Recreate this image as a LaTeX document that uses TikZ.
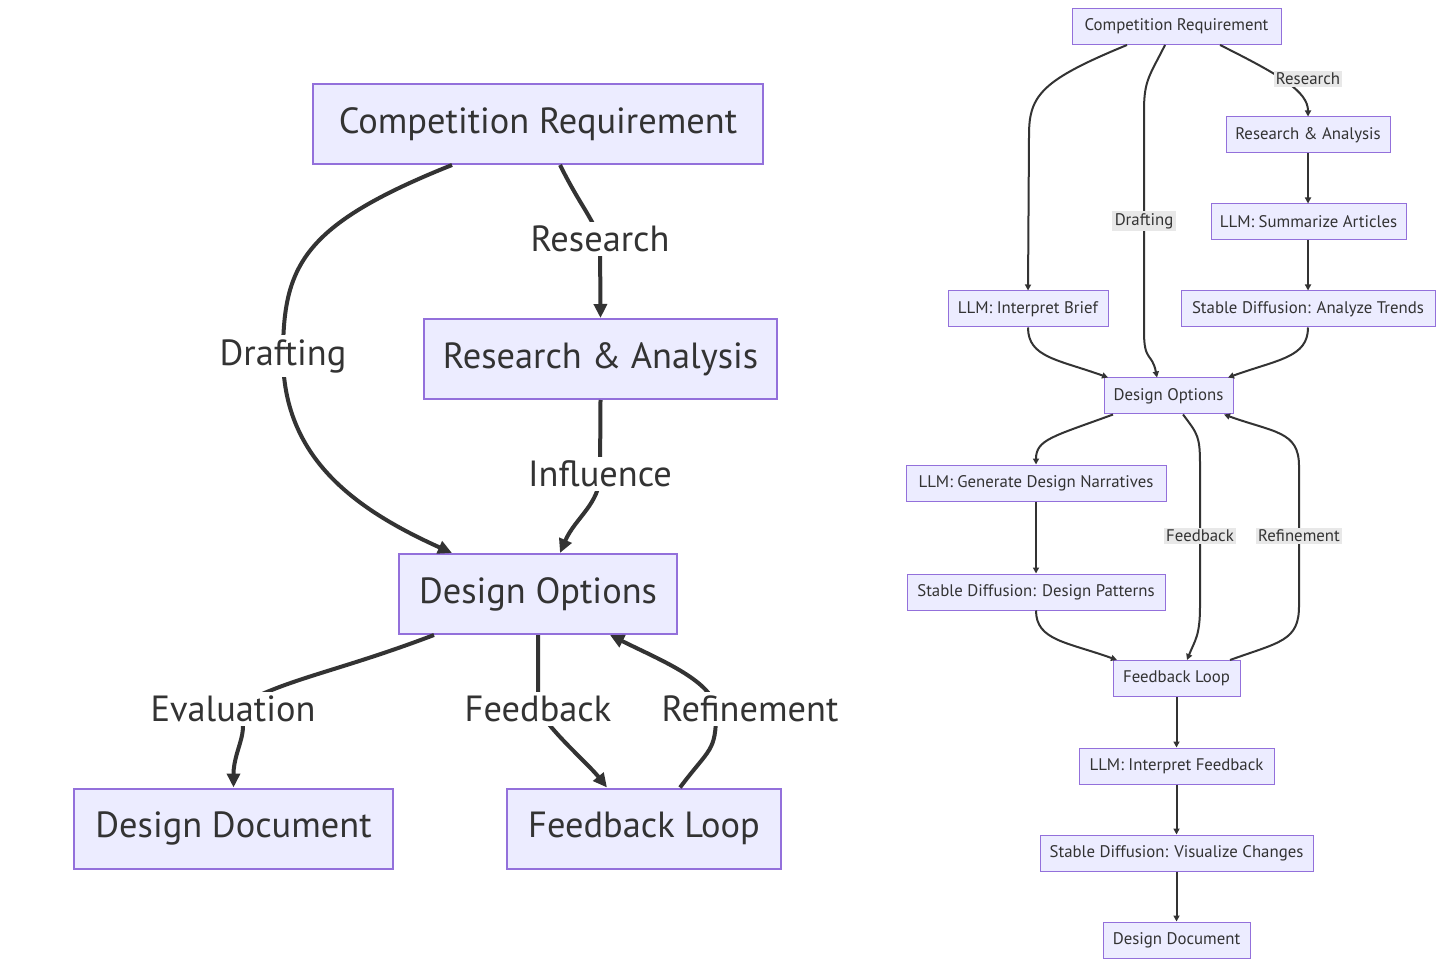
\documentclass[tikz,border=0pt]{standalone}
\usepackage{fontspec}
\setmainfont{PT Sans}
\usetikzlibrary{arrows.meta}
\definecolor{nodefill}{HTML}{ECECFF}
\definecolor{nodeline}{HTML}{9370DB}
\definecolor{ink}{HTML}{333333}
\definecolor{labelbg}{HTML}{E8E8E8}
\begin{document}
\begin{tikzpicture}[x=0.5pt, y=-0.5pt,
    bigbox/.style={draw=nodeline, fill=nodefill, line width=1pt, minimum height=40pt, inner sep=0pt, text=ink, font=\fontsize{18.2}{22}\selectfont},
    smallbox/.style={draw=nodeline, fill=nodefill, line width=0.5pt, minimum height=18pt, inner sep=0pt, text=ink, font=\fontsize{8.4}{10}\selectfont},
    bigedge/.style={draw=ink, line width=2pt, -{Triangle[length=7pt,width=6.5pt]}},
    smalledge/.style={draw=ink, line width=1pt, -{Triangle[length=3pt,width=3pt]}},
    biglabel/.style={fill=white, text=ink, inner sep=2pt, font=\fontsize{18.2}{22}\selectfont},
    smalllabel/.style={fill=labelbg, text=ink, inner sep=1.2pt, font=\fontsize{8.4}{10}\selectfont}]
    \fill[white] (0,0) rectangle (1443,967);
    \useasboundingbox (0,0) rectangle (1443,967);
    % Overview boxes
    \node[bigbox, minimum width=225pt] (cr) at (538,124) {Competition Requirement};
    \node[bigbox, minimum width=176.5pt] (ra) at (600.5,359) {Research \& Analysis};
    \node[bigbox, minimum width=139pt] (do) at (538,594) {Design Options};
    \node[bigbox, minimum width=159.5pt] (dd) at (233.5,828.5) {Design Document};
    \node[bigbox, minimum width=137pt] (fl) at (644,828.5) {Feedback Loop};
    % Overview edges
    \draw[bigedge] ([xshift=-43pt]cr.south) .. controls +(-150,60) and +(0,-90) .. (283,356) node[biglabel] (lDraft) {Drafting}
        .. controls +(0,100) and +(-100,-45) .. ([xshift=-43pt]do.north);
    \draw[bigedge] ([xshift=11pt]cr.south) .. controls +(20,40) and +(-10,-25) .. (600,239) node[biglabel] (lRes) {Research} -- (ra.north);
    \draw[bigedge] (ra.south) -- (600,474) node[biglabel] (lInf) {Influence}
        .. controls +(0,30) and +(15,-35) .. ([xshift=11pt]do.north);
    \draw[bigedge] ([xshift=-52pt]do.south) .. controls +(-100,38) and +(50,-30) .. (233,709) node[biglabel] (lEval) {Evaluation}
        .. controls +(22,16) and +(0,-40) .. (dd.north);
    \draw[bigedge] (do.south) -- (538,709) node[biglabel] (lFeed) {Feedback}
        .. controls +(15,25) and +(-20,-25) .. ([xshift=-18.5pt]fl.north);
    \draw[bigedge] ([xshift=18pt]fl.north) .. controls +(30,-40) and +(0,40) .. (716,712)
        .. controls +(0,-30) and +(50,25) .. ([xshift=36pt]do.south);
    \node[biglabel] (lRef) at (750,709) {Refinement};
    % Detailed boxes
    \node[smallbox, minimum width=104.5pt] (cr2) at (1176.5,26.5) {Competition Requirement};
    \node[smallbox, minimum width=82pt] (ra2) at (1308,135) {Research \& Analysis};
    \node[smallbox, minimum width=97.5pt] (sum) at (1308.5,222) {LLM: Summarize Articles};
    \node[smallbox, minimum width=80pt] (ib) at (1028,309) {LLM: Interpret Brief};
    \node[smallbox, minimum width=127pt] (sdt) at (1308,309) {Stable Diffusion: Analyze Trends};
    \node[smallbox, minimum width=64.5pt] (do2) at (1168.5,396) {Design Options};
    \node[smallbox, minimum width=130pt] (gen) at (1036,483) {LLM: Generate Design Narratives};
    \node[smallbox, minimum width=129pt] (sdp) at (1036,592) {Stable Diffusion: Design Patterns};
    \node[smallbox, minimum width=63.5pt] (fl2) at (1176.5,678.5) {Feedback Loop};
    \node[smallbox, minimum width=97.5pt] (if) at (1176.5,766) {LLM: Interpret Feedback};
    \node[smallbox, minimum width=136.5pt] (svc) at (1176.5,853) {Stable Diffusion: Visualize Changes};
    \node[smallbox, minimum width=73.5pt] (dd2) at (1176.5,940) {Design Document};
    % Detailed edges
    \draw[smalledge] ([xshift=-24.75pt]cr2.south) .. controls +(-85,35) and +(0,-40) .. (1029,135) -- (ib.north);
    \draw[smalledge] ([xshift=-5.75pt]cr2.south) .. controls +(-15,30) and +(0,-30) .. (1144,110)
        -- node[smalllabel] (lDraft2) {Drafting} (1144,332) .. controls +(0,30) and +(-5,-25) .. ([xshift=-5.75pt]do2.north);
    \draw[smalledge] ([xshift=21.75pt]cr2.south) .. controls +(60,30) and +(0,-25) .. (ra2.north);
    \node[smalllabel] (lRes2) at (1308,79) {Research};
    \draw[smalledge] (ra2.south) -- (sum.north -| ra2.south);
    \draw[smalledge] (sum.south -| ra2.south) -- (sdt.north);
    \draw[smalledge] (ib.south) .. controls +(0,30) and +(-50,-18) .. ([xshift=-30.25pt]do2.north);
    \draw[smalledge] (sdt.south) .. controls +(0,30) and +(50,-18) .. ([xshift=29.75pt]do2.north);
    \draw[smalledge] ([xshift=-27.75pt]do2.south) .. controls +(-60,22) and +(0,-25) .. (gen.north);
    \draw[smalledge] ([xshift=7.25pt]do2.south) .. controls +(15,20) and +(0,-30) .. (1200,466)
        -- node[smalllabel] (lFeed2) {Feedback} (1200,606) .. controls +(0,30) and +(8,-20) .. ([xshift=5.25pt]fl2.north);
    \draw[smalledge] ([xshift=26.75pt]fl2.north) .. controls +(50,-18) and +(0,35) .. (1299,606)
        -- node[smalllabel] (lRef2) {Refinement} (1299,466) .. controls +(0,-35) and +(50,18) .. ([xshift=27.75pt]do2.south);
    \draw[smalledge] (gen.south) -- (sdp.north);
    \draw[smalledge] (sdp.south) .. controls +(0,30) and +(-50,-18) .. ([xshift=-29.75pt]fl2.north);
    \draw[smalledge] (fl2.south) -- (if.north);
    \draw[smalledge] (if.south) -- (svc.north);
    \draw[smalledge] (svc.south) -- (dd2.north);
\end{tikzpicture}
\end{document}
